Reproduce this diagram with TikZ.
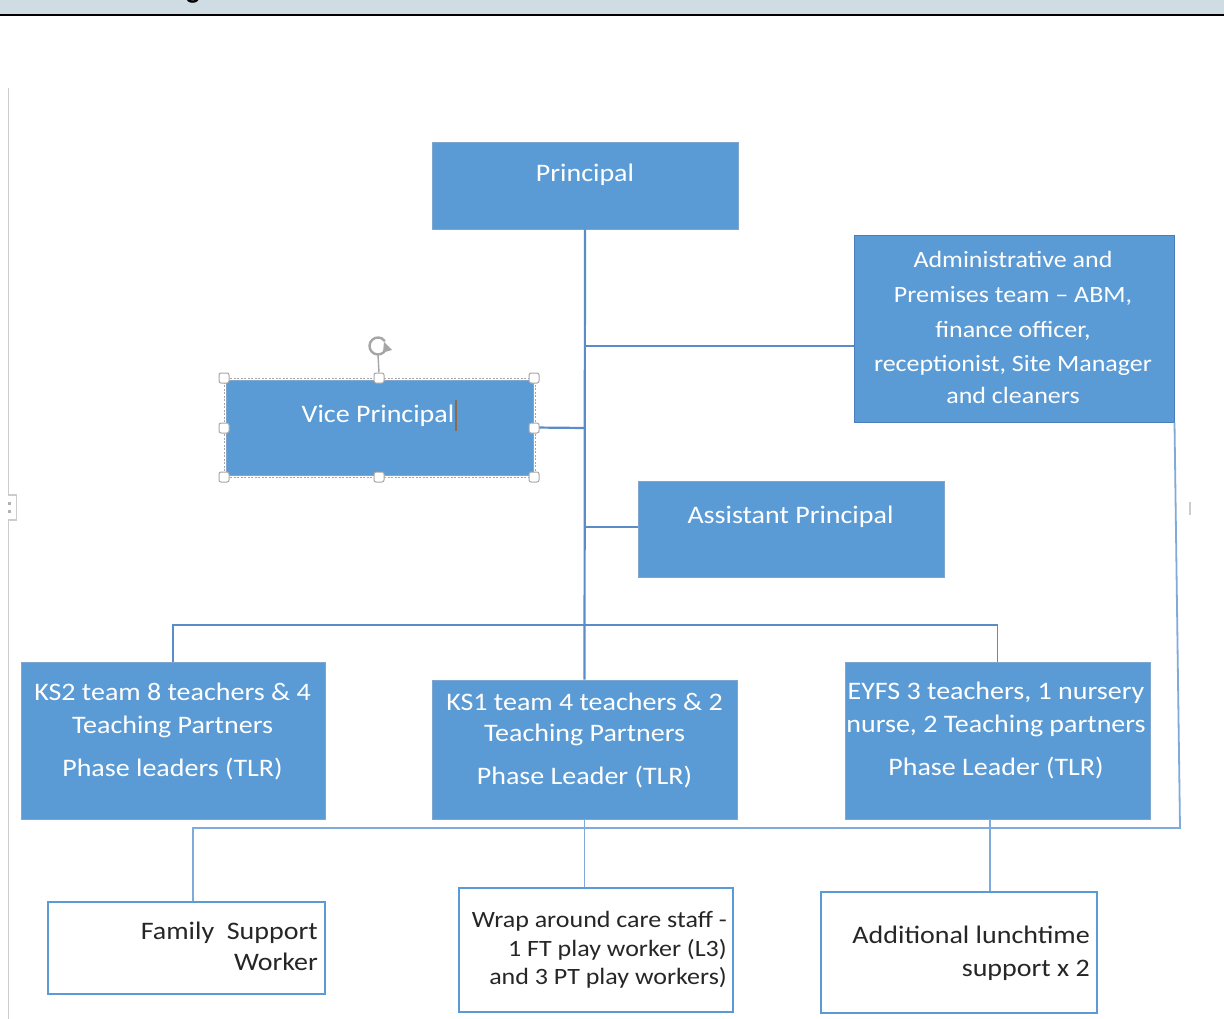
\documentclass[tikz,border=0pt]{standalone}
\usepackage{fontspec}
\setmainfont{Carlito}
\usetikzlibrary{fit}
\definecolor{boxblue}{HTML}{5B9BD5}
\definecolor{boxedge}{HTML}{4A7EBB}
\definecolor{linkblue}{HTML}{5A8CC8}
\definecolor{lightlink}{HTML}{7FAADC}
\definecolor{band}{HTML}{CFDCE4}
\definecolor{inkgrey}{HTML}{262626}
\definecolor{handlegrey}{HTML}{A6A6A6}
\definecolor{cursorbrown}{HTML}{8C6A4A}
% slightly condensed vertical look of the text
\newcommand{\sqz}[1]{\scalebox{1}[0.9]{#1}}

\begin{document}
\begin{tikzpicture}[x=1pt,y=-1pt,
  bluebox/.style={draw=boxedge!70, line width=0.8pt, fill=boxblue, inner sep=0pt},
  whitebox/.style={draw=boxblue, line width=1.6pt, fill=white, inner sep=0pt},
  wtext/.style={anchor=base, text=white, inner sep=0pt, font=\fontsize{28}{34}\selectfont},
  wsmall/.style={wtext, font=\fontsize{26}{32}\selectfont},
  btext/.style={anchor=base east, text=inkgrey, inner sep=0pt, font=\fontsize{28}{34}\selectfont},
  bsmall/.style={btext, font=\fontsize{26}{30}\selectfont},
  link/.style={draw=linkblue, line width=2.2pt},
  link2/.style={draw=lightlink, line width=1.8pt},
  handle/.style={draw=handlegrey, fill=white, line width=1pt, rounded corners=2pt,
                 minimum size=10pt, inner sep=0pt},
  margin/.style={draw=black!20, line width=1.2pt}
]
\useasboundingbox (0,0) rectangle (1224,1019);

% page header band
\fill[band] (0,0) rectangle (1224,14);
\fill[black] (0,14) rectangle (1224,16.5);
\node[anchor=base, inner sep=0pt, font=\bfseries\fontsize{28}{30}\selectfont] (headg) at (193,-1) {g};

% margin marks
\draw[margin] (8.5,88) -- (8.5,495) -- (16.5,495) -- (16.5,520) -- (8.5,520) -- (8.5,1019);
\fill[black!30] (8,502) rectangle (11,505);
\fill[black!30] (8,510) rectangle (11,513);
\draw[margin] (1190,502) -- (1190,515);

% junction points of the connectors
\coordinate (jadm) at (585,346);
\coordinate (jvp)  at (585,428);
\coordinate (jap)  at (585,527);
\coordinate (jl)   at (173,625);
\coordinate (jr)   at (997.5,625);
\coordinate (bbr)  at (1180,828);
\coordinate (bbl)  at (193,828);
\coordinate (dk1)  at (584.5,819);
\coordinate (dey)  at (990,819);

% boxes
\node[bluebox, fit={(432,142) (738,229)}] (principal) {};
\node[bluebox, draw=boxedge, line width=1pt, fit={(854,236) (1174,422)}] (adm) {};
\node[bluebox, fit={(226,380) (533,475)}] (vp) {};
\node[bluebox, fit={(638,481) (944,577)}] (ap) {};
\node[bluebox, fit={(21,662) (325,819)}] (ks2) {};
\node[bluebox, fit={(432,680) (737,819)}] (ks1) {};
\node[bluebox, fit={(845,662) (1150,819)}] (eyfs) {};
\node[whitebox, fit={(48,902) (325,994)}] (fsw) {};
\node[whitebox, fit={(459,888) (733,1012)}] (wrap) {};
\node[whitebox, fit={(821,892) (1097,1013)}] (lunch) {};

% lines of the chart
\draw[link] (principal.south) -- (ks1.north);
\draw[link, line width=1.6pt] (jadm) -- (jadm -| adm.west);
\draw[link] (vp.east) -- (jvp);
\draw[link] (jap) -- (jap -| ap.west);
\draw[link, line width=1.8pt] (ks2.north -| jl) -- (jl) -- (jr) -- (eyfs.north -| jr);
\draw[link2] (adm.south east) -- (bbr) -- (bbl) -- (fsw.north -| bbl);
\draw[link2] (dk1) -- (dk1 |- wrap.north);
\draw[link2] (dey) -- (dey |- lunch.north);

% box texts
\node[wtext] (principal-t) at (585,181.7) {\sqz{Principal}};

\node[wsmall] (adm-t1) at (1013,268) {\sqz{Administrative and}};
\node[wsmall] (adm-t2) at (1013,302.7) {\sqz{Premises team -- ABM,}};
\node[wsmall] (adm-t3) at (1013,337.7) {\sqz{finance officer,}};
\node[wsmall] (adm-t4) at (1013,371.7) {\sqz{receptionist, Site Manager}};
\node[wsmall] (adm-t5) at (1013,403.3) {\sqz{and cleaners}};

\node[wtext] (vp-t) at (378,422) {\sqz{Vice Principal}};
\node[wtext] (ap-t) at (790.5,523) {\sqz{Assistant Principal}};

\node[wtext] (ks2-t1) at (172.5,700.7) {\sqz{KS2 team 8 teachers \& 4}};
\node[wtext] (ks2-t2) at (172.5,733) {\sqz{Teaching Partners}};
\node[wtext] (ks2-t3) at (172.5,776.7) {\sqz{Phase leaders (TLR)}};

\node[wtext] (ks1-t1) at (584.5,710) {\sqz{KS1 team 4 teachers \& 2}};
\node[wtext] (ks1-t2) at (584.5,741.7) {\sqz{Teaching Partners}};
\node[wtext] (ks1-t3) at (584.5,784.3) {\sqz{Phase Leader (TLR)}};

\node[wtext] (ey-t1) at (996,699.3) {\sqz{EYFS 3 teachers, 1 nursery}};
\node[wtext] (ey-t2) at (996,732.7) {\sqz{nurse, 2 Teaching partners}};
\node[wtext] (ey-t3) at (996,775) {\sqz{Phase Leader (TLR)}};

\node[btext] (fsw-t1) at (318,939) {\sqz{Family\ \ Support}};
\node[btext] (fsw-t2) at (318,970) {\sqz{Worker}};

\node[bsmall] (wrap-t1) at (727,927) {\sqz{Wrap around care staff -}};
\node[bsmall] (wrap-t2) at (727,956) {\sqz{1 FT play worker (L3)}};
\node[bsmall] (wrap-t3) at (727,984) {\sqz{and 3 PT play workers)}};

\node[btext] (lunch-t1) at (1090,943) {\sqz{Additional lunchtime}};
\node[btext] (lunch-t2) at (1090,976) {\sqz{support x 2}};

% selection frame round the Vice Principal box
\draw[handlegrey, line width=1pt, dash pattern=on 2pt off 1.5pt] (224,378) rectangle (535,477);
\draw[cursorbrown, line width=1.5pt] (456,400) -- (456,431);
\node[handle] (h-nw) at (224,378) {};
\node[handle] (h-n)  at (379,378) {};
\node[handle] (h-ne) at (534,378) {};
\node[handle] (h-w)  at (224,428) {};
\node[handle] (h-e)  at (534,428) {};
\node[handle] (h-sw) at (224,477) {};
\node[handle] (h-s)  at (379,477) {};
\node[handle] (h-se) at (534,477) {};
% rotation handle
\coordinate (rotc) at (378,346);
\draw[handlegrey, line width=1.4pt] (h-n.north) -- (378,355);
\draw[handlegrey, line width=2.4pt] (rotc) ++(25:8.5) arc[start angle=25, end angle=325, radius=8.5];
\fill[handlegrey] (384,342) -- (392,350) -- (383,352.5) -- cycle;
\end{tikzpicture}
\end{document}
